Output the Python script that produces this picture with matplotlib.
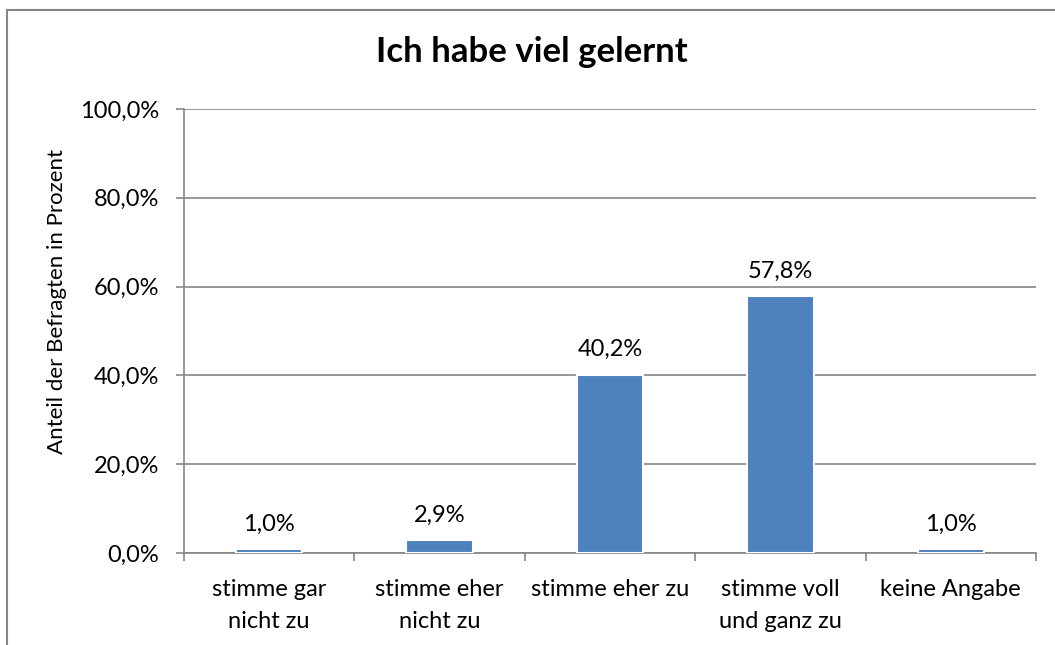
import numpy as np
import matplotlib.pyplot as plt
from matplotlib.lines import Line2D

# Data
categories = ['stimme gar\nnicht zu', 'stimme eher\nnicht zu', 'stimme eher zu',
              'stimme voll\nund ganz zu', 'keine Angabe']
values = [1.0, 2.9, 40.2, 57.8, 1.0]
yticks = [0, 20, 40, 60, 80, 100]

plt.rcParams['font.family'] = ['Lato', 'DejaVu Sans']

fig = plt.figure(figsize=(10.55, 6.45), dpi=100)
ax = fig.add_axes([184 / 1055, 1 - 553 / 645, (1036 - 184) / 1055, (553 - 109) / 645])

x = np.arange(len(categories))
bars = ax.bar(x, values, width=0.39, color='#4F81BD', edgecolor='white', linewidth=1.5, zorder=3)

for xi, v in zip(x, values):
    ax.text(xi, v + 3.2, f'{v:.1f}%'.replace('.', ','), ha='center', va='bottom', fontsize=17)

ax.set_xlim(-0.5, len(categories) - 0.5)
ax.set_ylim(0, 100)
ax.set_yticks(yticks)
ax.set_yticklabels([f'{t:.1f}%'.replace('.', ',') for t in yticks], fontsize=17)
ax.yaxis.grid(True, color='#868686', linewidth=1.2, zorder=0)

ax.set_xticks(x)
ax.set_xticklabels(categories, fontsize=17, linespacing=1.62)
ax.tick_params(axis='x', length=0, pad=19)
ax.set_xticks(np.arange(-0.5, len(categories)), minor=True)
ax.tick_params(axis='x', which='minor', length=6, color='#868686', width=1.2)
ax.tick_params(axis='y', length=6, color='#868686', width=1.2, pad=12)

for s in ['top', 'right']:
    ax.spines[s].set_visible(False)
for s in ['left', 'bottom']:
    ax.spines[s].set_color('#868686')
    ax.spines[s].set_linewidth(1.2)

ax.set_ylabel('Anteil der Befragten in Prozent', fontsize=16)
ax.yaxis.set_label_coords((67 - 184) / 852, (553 - 302) / 444)
fig.text(532 / 1055, 1 - 52 / 645, 'Ich habe viel gelernt', ha='center', va='center',
         fontsize=25, fontweight='bold')

# chart border (top and left visible)
fig.add_artist(Line2D([6.5 / 1055, 6.5 / 1055], [0, 1 - 9.5 / 645], transform=fig.transFigure,
                      color='#868686', linewidth=1.5))
fig.add_artist(Line2D([6.5 / 1055, 1], [1 - 9.5 / 645, 1 - 9.5 / 645], transform=fig.transFigure,
                      color='#868686', linewidth=1.5))

plt.savefig('out.png', dpi=100)
